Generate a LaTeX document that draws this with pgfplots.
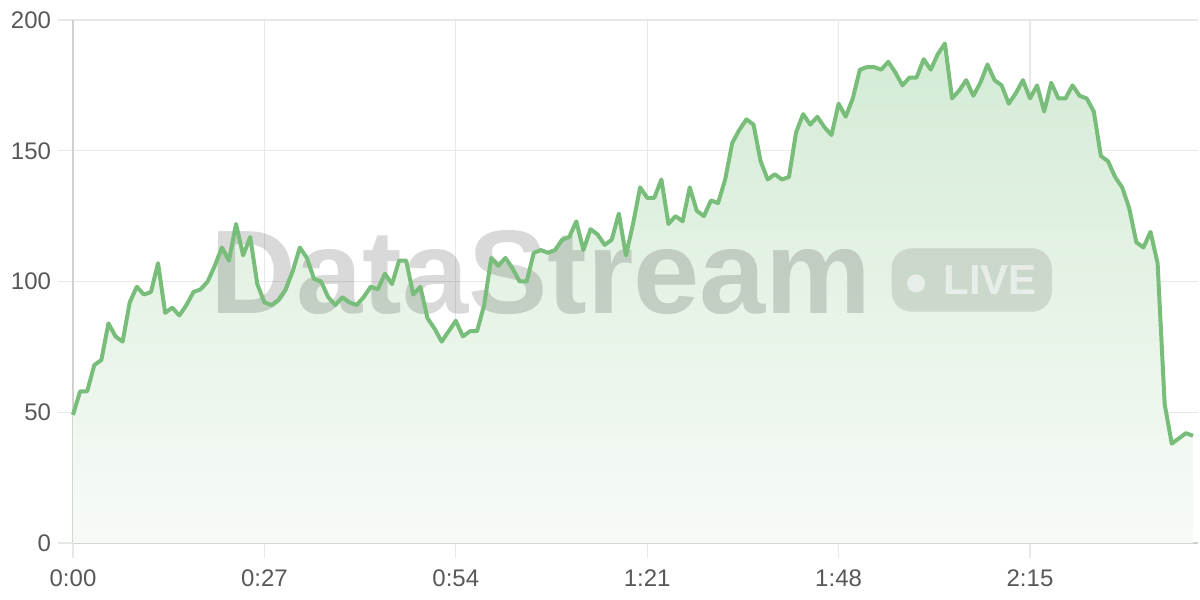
\documentclass[border=0pt]{standalone}
\usepackage{pgfplots}
\usepackage{pgfplotstable}
\pgfplotsset{compat=1.18}
\usepackage{fontspec}
\setmainfont{Liberation Sans}
\definecolor{lineg}{RGB}{120,190,122}
\definecolor{filltop}{RGB}{212,235,213}
\definecolor{fillbot}{RGB}{247,251,247}
\definecolor{gridc}{RGB}{232,232,232}
\definecolor{axisc}{RGB}{208,208,208}
\definecolor{labc}{RGB}{88,88,88}
\pgfplotstableread{
t v
0 49
1 58
2 58
3 68
4 70
5 84
6 79
7 77
8 92
9 98
10 95
11 96
12 107
13 88
14 90
15 87
16 91
17 96
18 97
19 100
20 106
21 113
22 108
23 122
24 110
25 117
26 99
27 92
28 91
29 93
30 97
31 104
32 113
33 109
34 101
35 100
36 94
37 91
38 94
39 92
40 91
41 94
42 98
43 97
44 103
45 99
46 108
47 108
48 95
49 98
50 86
51 82
52 77
53 81
54 85
55 79
56 81
57 81
58 91
59 109
60 106
61 109
62 105
63 100
64 100
65 111
66 112
67 111
68 112
69 116
70 117
71 123
72 112
73 120
74 118
75 114
76 116
77 126
78 110
79 122
80 136
81 132
82 132
83 139
84 122
85 125
86 123
87 136
88 127
89 125
90 131
91 130
92 139
93 153
94 158
95 162
96 160
97 146
98 139
99 141
100 139
101 140
102 157
103 164
104 160
105 163
106 159
107 156
108 168
109 163
110 170
111 181
112 182
113 182
114 181
115 184
116 180
117 175
118 178
119 178
120 185
121 181
122 187
123 191
124 170
125 173
126 177
127 171
128 176
129 183
130 177
131 175
132 168
133 172
134 177
135 170
136 175
137 165
138 176
139 170
140 170
141 175
142 171
143 170
144 165
145 148
146 146
147 140
148 136
149 128
150 115
151 113
152 119
153 107
154 53
155 38
156 40
157 42
158 41
}\datatable
\begin{document}
\begin{tikzpicture}
\begin{axis}[
  at={(0,0)}, anchor=south west,
  scale only axis, width=562.5bp, height=261.5bp,
  xmin=0, xmax=158.7, ymin=0, ymax=200,
  axis x line*=bottom, axis y line*=left,
  axis line style={draw=axisc, line width=0.8bp, -},
  xtick={0,27,54,81,108,135},
  xticklabels={0:00,0:27,0:54,1:21,1:48,2:15},
  ytick={0,50,100,150,200},
  grid=major,
  major grid style={draw=gridc, line width=0.7bp},
  tick align=outside,
  major tick length=7.5bp,
  tick style={draw=gridc, line width=0.7bp},
  /pgf/number format/assume math mode=true,
  tick label style={font=\fontsize{12bp}{14bp}\selectfont, text=labc},
  xticklabel style={yshift=-2.5bp},
  yticklabel style={xshift=0bp},
  clip=false,
]
\addplot[draw=none, top color=filltop, bottom color=fillbot, forget plot] table[x=t, y=v] {\datatable} \closedcycle;
\node[anchor=base west, inner sep=0pt, text=black, opacity=0.15, font=\fontsize{59.5bp}{60bp}\selectfont\bfseries] at (axis cs:19.33,87.95) {DataStream};
\fill[black, opacity=0.11, rounded corners=10bp] (axis cs:115.49,88.45) rectangle (axis cs:138.07,112.7);
\fill[white, opacity=0.55] (axis cs:118.92,99.31) circle[radius=4.5bp];
\node[anchor=base west, inner sep=0pt, text=white, opacity=0.55, font=\fontsize{21bp}{22bp}\selectfont\bfseries] at (axis cs:122.73,94.84) {LIVE};
\addplot[draw=lineg, line width=2bp, line join=round, mark=none] table[x=t, y=v] {\datatable};
\end{axis}
\pgfresetboundingbox
\path[use as bounding box] (-36.5bp,-28.5bp) rectangle (563.5bp,271.5bp);
\end{tikzpicture}
\end{document}
